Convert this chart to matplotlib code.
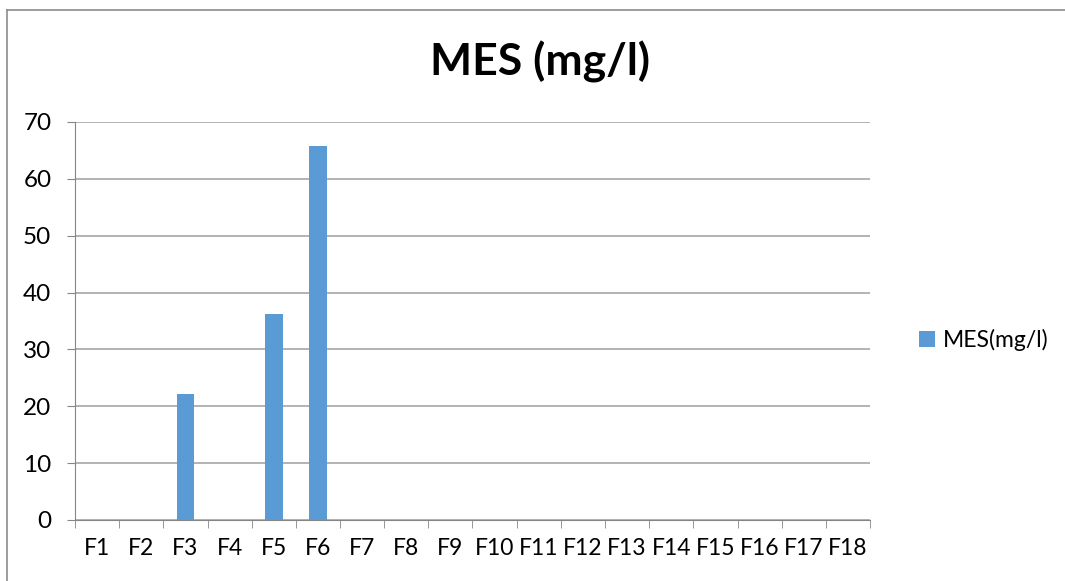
import matplotlib
matplotlib.use("Agg")
import matplotlib.pyplot as plt
from matplotlib.lines import Line2D

categories = [f"F{i}" for i in range(1, 19)]
values = [0, 0, 22.1, 0, 36.3, 65.8, 0, 0, 0, 0, 0, 0, 0, 0, 0, 0, 0, 0]
yticks = [0, 10, 20, 30, 40, 50, 60, 70]

plt.rcParams['font.family'] = ['Lato', 'DejaVu Sans']

W, H = 1065, 581
fig = plt.figure(figsize=(W / 100, H / 100), dpi=100)
ax = fig.add_axes([75 / W, 1 - 520 / H, (870 - 75) / W, (520 - 122) / H])

x = list(range(len(categories)))
ax.bar(x, values, width=0.4, color='#5b9bd5', label='MES(mg/l)', zorder=3)

ax.set_xlim(-0.5, len(categories) - 0.5)
ax.set_ylim(0, 70)
ax.set_yticks(yticks)
ax.set_xticks(x)
ax.set_xticklabels(categories)
ax.set_xticks([i - 0.5 for i in range(len(categories) + 1)], minor=True)
ax.tick_params(axis='x', which='major', length=0, pad=13, labelsize=16.5)
ax.tick_params(axis='x', which='minor', length=6, color='#868686', direction='out')
ax.tick_params(axis='y', length=6, color='#868686', labelsize=17.5, pad=11)
ax.grid(axis='y', color='#a6a6a6', linewidth=1.2, zorder=0)

for side in ['top', 'right']:
    ax.spines[side].set_visible(False)
ax.spines['left'].set_color('#868686')
ax.spines['bottom'].set_color('#868686')

fig.text(540 / W, 1 - 62 / H, 'MES (mg/l)', ha='center', va='center',
         fontsize=32, fontweight='bold')

fig.legend(loc='center left', bbox_to_anchor=(898 / W, 1 - 340 / H),
           frameon=False, fontsize=16.5, handlelength=0.7, handleheight=0.7,
           handletextpad=0.35)

# outer chart border (top and left edges visible)
border = '#8c8c8c'
fig.lines.append(Line2D([7 / W, 7 / W], [0, 1 - 10 / H], transform=fig.transFigure,
                        color=border, linewidth=1.2))
fig.lines.append(Line2D([7 / W, 1], [1 - 10 / H, 1 - 10 / H], transform=fig.transFigure,
                        color=border, linewidth=1.2))

fig.savefig('out.png', dpi=100)
